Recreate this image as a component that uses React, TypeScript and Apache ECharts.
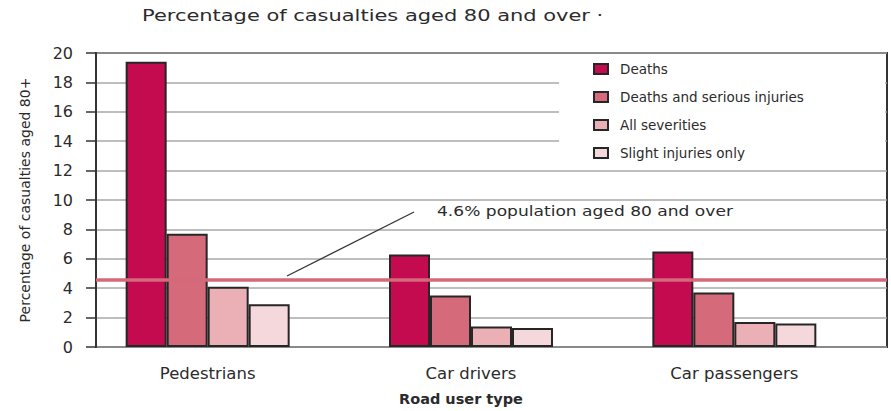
import React, { useEffect, useRef } from "react";
import * as echarts from "echarts";

// Share of casualties aged 80 and over, by road user type (%)
const categories = ["Pedestrians", "Car drivers", "Car passengers"];
const seriesNames = [
  "Deaths",
  "Deaths and serious injuries",
  "All severities",
  "Slight injuries only",
];
const deaths = [19.4, 6.3, 6.5];
const deathsSerious = [7.7, 3.5, 3.7];
const allSeverities = [4.1, 1.4, 1.7];
const slightOnly = [2.9, 1.3, 1.6];
const populationShare = 4.6;

const yMin = 0;
const yMax = 20;
const yInterval = 2;

const barColors = ["#c50b4f", "#d56a7b", "#eab0b5", "#f5d8db"];
const FONT = "DejaVu Sans";
const TEXT = "#2b2b2b";

export default function App() {
  const ref = useRef<HTMLDivElement>(null);

  useEffect(() => {
    if (!ref.current) return;
    const chart = echarts.init(ref.current, undefined, { renderer: "svg" });
    const values = [deaths, deathsSerious, allSeverities, slightOnly];

    chart.setOption({
      animation: false,
      textStyle: { fontFamily: FONT, color: TEXT },
      grid: [
        {
          left: 96,
          right: 4,
          top: 53,
          bottom: 64,
          show: true,
          borderColor: "#333",
          borderWidth: 2,
        },
        { left: 76, width: 790, top: 53, bottom: 64 },
      ],
      xAxis: [
        { type: "value", gridIndex: 0, min: 0, max: 1, show: false },
        {
          type: "category",
          gridIndex: 1,
          data: categories,
          axisLine: { show: false },
          axisTick: { show: false },
          axisLabel: { margin: 18, fontSize: 16.5, color: TEXT, fontFamily: FONT },
          name: "Road user type",
          nameLocation: "middle",
          nameGap: 44,
          nameTextStyle: {
            fontFamily: FONT,
            fontWeight: "bold",
            fontSize: 14.5,
            color: TEXT,
            padding: [0, 20, 0, 0],
          },
        },
      ],
      yAxis: [
        {
          type: "value",
          gridIndex: 0,
          min: yMin,
          max: yMax,
          interval: yInterval,
          axisLine: { show: true, lineStyle: { color: "#333", width: 2 } },
          axisTick: { show: true, length: 10, lineStyle: { color: "#333", width: 1.5 } },
          axisLabel: { margin: 23, fontSize: 16, color: TEXT, fontFamily: FONT },
          splitLine: { show: true, lineStyle: { color: "#a8a8a8", width: 1.5 } },
          name: "Percentage of casualties aged 80+",
          nameLocation: "middle",
          nameGap: 64,
          nameTextStyle: { fontFamily: FONT, fontSize: 14, color: TEXT },
        },
        { type: "value", gridIndex: 1, min: yMin, max: yMax, show: false },
      ],
      legend: {
        orient: "vertical",
        left: 593,
        top: 62,
        padding: 0,
        itemWidth: 14,
        itemHeight: 10,
        itemGap: 14,
        icon: "rect",
        selectedMode: false,
        data: seriesNames,
        textStyle: {
          fontFamily: FONT,
          fontSize: 13.5,
          color: TEXT,
          lineHeight: 14,
          padding: [0, 0, 0, 7],
        },
      },
      series: [
        ...seriesNames.map((name, i) => ({
          type: "bar",
          name,
          xAxisIndex: 1,
          yAxisIndex: 1,
          data: values[i],
          barWidth: 41,
          barGap: "0%",
          itemStyle: { color: barColors[i], borderColor: "#262626", borderWidth: 2 },
        })),
        {
          type: "line",
          name: "Population aged 80 and over",
          xAxisIndex: 0,
          yAxisIndex: 0,
          data: [],
          z: 5,
          markLine: {
            silent: true,
            symbol: "none",
            label: { show: false },
            lineStyle: { color: "#d5687a", width: 3.5, type: "solid" },
            data: [{ yAxis: populationShare }],
          },
        },
      ],
      graphic: [
        {
          type: "rect",
          z: 1,
          silent: true,
          shape: { x: 559, y: 55, width: 326, height: 111 },
          style: { fill: "#ffffff" },
        },
        {
          type: "text",
          x: 142,
          y: 15,
          scaleX: 1.31,
          style: {
            text: "Percentage of casualties aged 80 and over ·",
            fontFamily: FONT,
            fontSize: 16,
            fill: TEXT,
            align: "left",
            verticalAlign: "middle",
          },
        },
        {
          type: "line",
          z: 10,
          shape: { x1: 287, y1: 276, x2: 414, y2: 212 },
          style: { stroke: "#333", lineWidth: 1.3 },
        },
        {
          type: "text",
          z: 10,
          x: 437,
          y: 212,
          scaleX: 1.22,
          style: {
            text: `${populationShare}% population aged 80 and over`,
            fontFamily: FONT,
            fontSize: 14,
            fill: TEXT,
            align: "left",
            verticalAlign: "middle",
          },
        },
      ],
    });

    return () => chart.dispose();
  }, []);

  return (
    <div
      ref={ref}
      style={{ position: "absolute", left: 0, top: 0, width: 891, height: 411 }}
    />
  );
}
